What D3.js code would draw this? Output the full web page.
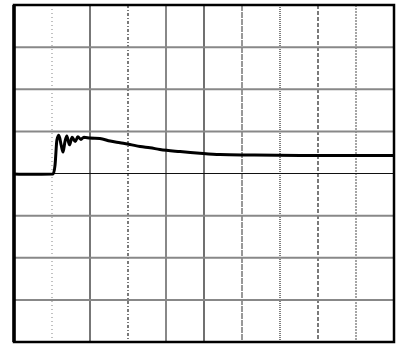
<!DOCTYPE html>
<html>
<head>
<meta charset="utf-8">
<script src="https://cdn.jsdelivr.net/npm/d3@7"></script>
<style>
  html, body { margin: 0; padding: 0; background: #fff; }
  svg { display: block; }
</style>
</head>
<body>
<svg id="scope" width="396" height="345"></svg>
<script>
// Step response trace, in screen divisions (10 horizontal, 8 vertical, centre = 0)
const timeDiv = [0, 0.42, 1.03, 1.08, 1.13, 1.18, 1.24, 1.29, 1.34, 1.39, 1.46, 1.53, 1.61, 1.68, 1.76, 1.84,
                 2.0, 2.26, 2.53, 2.79, 3.05, 3.32, 3.58, 3.84, 4.37, 4.89, 5.42, 6.21, 7.53, 10];
const levelDiv = [-0.01, -0.02, -0.01, 0.2, 0.8, 0.91, 0.68, 0.51, 0.75, 0.89, 0.68, 0.86, 0.76, 0.87, 0.81, 0.86,
                  0.84, 0.83, 0.77, 0.73, 0.69, 0.64, 0.61, 0.57, 0.52, 0.48, 0.45, 0.44, 0.43, 0.43];

// Graticule divisions
const xDivisions = [1, 2, 3, 4, 5, 6, 7, 8, 9];
const yDivisions = [3, 2, 1, 0, -1, -2, -3];

const svg = d3.select("#scope");
const frameL = 14, frameR = 394, frameT = 5, frameB = 342;

const x = d3.scaleLinear().domain([0, 10]).range([frameL, frameR]);
const y = d3.scaleLinear().domain([-4, 4]).range([frameB, frameT]);

// vertical graticule lines, each with its own scan texture
const vStyles = [
  { c: "#999", w: 1.2, d: "1,3" },
  { c: "#777", w: 2,   d: null },
  { c: "#222", w: 1.2, d: "3,2,1,2" },
  { c: "#888", w: 2,   d: null },
  { c: "#111", w: 1.2, d: null },
  { c: "#777", w: 1.5, d: "6,1" },
  { c: "#555", w: 1.5, d: "1,1" },
  { c: "#222", w: 1.2, d: "4,2" },
  { c: "#888", w: 1.5, d: "2,1" }
];
svg.append("g").selectAll("line").data(xDivisions).join("line")
  .attr("x1", d => x(d)).attr("x2", d => x(d))
  .attr("y1", frameT).attr("y2", frameB)
  .attr("stroke", (d, i) => vStyles[i].c)
  .attr("stroke-width", (d, i) => vStyles[i].w)
  .attr("stroke-dasharray", (d, i) => vStyles[i].d);

// horizontal graticule lines
svg.append("g").selectAll("line").data(yDivisions).join("line")
  .attr("x1", frameL).attr("x2", frameR)
  .attr("y1", d => y(d)).attr("y2", d => y(d))
  .attr("stroke", d => d === 0 ? "#111" : "#888")
  .attr("stroke-width", d => d === 0 ? 1.2 : 2);

// trace
const line = d3.line()
  .x((d, i) => x(timeDiv[i]))
  .y(d => y(d))
  .curve(d3.curveMonotoneX);
svg.append("path")
  .datum(levelDiv)
  .attr("d", line)
  .attr("fill", "none")
  .attr("stroke", "#000")
  .attr("stroke-width", 3)
  .attr("stroke-linejoin", "round");

// screen frame
svg.append("rect")
  .attr("x", frameL).attr("y", frameT)
  .attr("width", frameR - frameL).attr("height", frameB - frameT)
  .attr("fill", "none").attr("stroke", "#000").attr("stroke-width", 2.5);
svg.append("line")
  .attr("x1", frameL).attr("x2", frameL).attr("y1", frameT).attr("y2", frameB)
  .attr("stroke", "#000").attr("stroke-width", 3.5);
</script>
</body>
</html>
